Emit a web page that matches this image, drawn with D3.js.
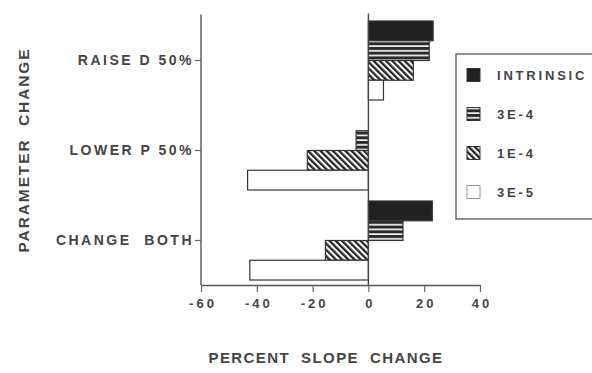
<!DOCTYPE html>
<html>
<head>
<meta charset="utf-8">
<script src="https://cdn.jsdelivr.net/npm/d3@7"></script>
<style>
  html, body { margin: 0; padding: 0; background: #fff; }
  svg { display: block; }
  text { font-family: "Liberation Sans", Arial, Helvetica, sans-serif; font-weight: bold; fill: #444; }
</style>
</head>
<body>
<script>
// ---- data ----
const categories = ["RAISE D 50%", "LOWER P 50%", "CHANGE  BOTH"];
const seriesNames = ["INTRINSIC", "3E-4", "1E-4", "3E-5"];
const intrinsic = [23.2, 0, 22.9];
const e3e4 = [21.8, -4.4, 12.4];
const e1e4 = [16.1, -21.9, -15.4];
const e3e5 = [5.4, -43.3, -42.5];
const xTickValues = [-60, -40, -20, 0, 20, 40];
const xTickLabels = ["-60", "-40", "-20", "0", "20", "40"];
const seriesValues = [intrinsic, e3e4, e1e4, e3e5];
const fills = ["url(#solid)", "url(#hlines)", "url(#diag)", "#ffffff"];

const W = 592, H = 373;
const svg = d3.select("body").append("svg").attr("width", W).attr("height", H);

// patterns
const defs = svg.append("defs");
const pSolid = defs.append("pattern").attr("id", "solid").attr("patternUnits", "userSpaceOnUse")
  .attr("width", 4).attr("height", 4);
pSolid.append("rect").attr("width", 4).attr("height", 4).attr("fill", "#222");

const pH = defs.append("pattern").attr("id", "hlines").attr("patternUnits", "userSpaceOnUse")
  .attr("width", 10).attr("height", 4.7);
pH.append("rect").attr("width", 10).attr("height", 4.7).attr("fill", "#2a2a2a");
pH.append("rect").attr("y", 3.0).attr("width", 10).attr("height", 1.7).attr("fill", "#f4f4f4");

const pD = defs.append("pattern").attr("id", "diag").attr("patternUnits", "userSpaceOnUse")
  .attr("width", 4.4).attr("height", 10).attr("patternTransform", "rotate(-45)");
pD.append("rect").attr("width", 4.4).attr("height", 10).attr("fill", "#ffffff");
pD.append("rect").attr("width", 2.3).attr("height", 10).attr("fill", "#262626");

// scales
const x = d3.scaleLinear().domain([-60, 40]).range([201, 480]);
const y = d3.scaleBand().domain(categories).range([15.5, 285.5])
  .paddingInner(11 / 90).paddingOuter(11 / 180);
const ySub = d3.scaleBand().domain(seriesNames).range([0, y.bandwidth()]);

// bars
const rows = [];
categories.forEach((c, i) => {
  seriesNames.forEach((s, j) => {
    rows.push({ cat: c, ser: s, v: seriesValues[j][i], fill: fills[j] });
  });
});
svg.append("g").selectAll("rect").data(rows.filter(d => d.v !== 0)).join("rect")
  .attr("x", d => x(Math.min(0, d.v)))
  .attr("y", d => y(d.cat) + ySub(d.ser))
  .attr("width", d => Math.abs(x(d.v) - x(0)))
  .attr("height", ySub.bandwidth())
  .attr("fill", d => d.fill)
  .attr("stroke", "#333")
  .attr("stroke-width", 1.2);

// zero line
svg.append("line").attr("x1", x(0)).attr("x2", x(0)).attr("y1", 13.5).attr("y2", 285)
  .attr("stroke", "#444").attr("stroke-width", 1.4);

// left axis
const gy = svg.append("g").attr("transform", `translate(${x(-60)},0)`)
  .call(d3.axisLeft(y).tickSize(6).tickSizeOuter(0).tickPadding(1));
gy.select(".domain").attr("stroke", "#555").attr("stroke-width", 1.4).attr("d", "M0,14.5V285");
gy.selectAll(".tick line").attr("stroke", "#666").attr("stroke-width", 1.2);
gy.selectAll(".tick text").style("font-size", "14px").style("letter-spacing", "2.5px")
  .attr("fill", "#444").style("white-space", "pre");

// bottom axis
const gx = svg.append("g").attr("transform", "translate(0,285)")
  .call(d3.axisBottom(x).tickValues(xTickValues).tickFormat((d, i) => xTickLabels[i])
    .tickSize(7).tickSizeOuter(0).tickPadding(7));
gx.select(".domain").attr("stroke", "#555").attr("stroke-width", 1.4);
gx.selectAll(".tick line").attr("stroke", "#666").attr("stroke-width", 1.2);
gx.selectAll(".tick text").style("font-size", "13px").style("letter-spacing", "3px")
  .attr("fill", "#444").attr("dx", "1.5px");

// axis titles
svg.append("text").attr("x", 326).attr("y", 363).attr("text-anchor", "middle")
  .style("font-size", "15px").style("letter-spacing", "1.4px").style("white-space", "pre")
  .text("PERCENT  SLOPE  CHANGE");
svg.append("text").attr("transform", "translate(29,150) rotate(-90)").attr("text-anchor", "middle")
  .style("font-size", "15.5px").style("letter-spacing", "1.9px").style("white-space", "pre")
  .text("PARAMETER  CHANGE");

// legend
const lg = svg.append("g");
lg.append("rect").attr("x", 456).attr("y", 54).attr("width", 150).attr("height", 165)
  .attr("fill", "#fff").attr("stroke", "#666").attr("stroke-width", 1.4);
const legY = d3.scalePoint().domain(seriesNames).range([75, 192]);
const li = lg.selectAll("g.item").data(seriesNames).join("g").attr("class", "item")
  .attr("transform", d => `translate(467,${legY(d)})`);
li.append("rect").attr("x", 0).attr("y", -6.5).attr("width", 13).attr("height", 13)
  .attr("fill", (d, i) => fills[i]).attr("stroke", (d, i) => i === 3 ? "#999" : "#333").attr("stroke-width", 1);
li.append("text").attr("x", 30).attr("y", 0).attr("dy", "0.36em")
  .style("font-size", "13px").style("letter-spacing", "2.8px").text(d => d);
</script>
</body>
</html>
